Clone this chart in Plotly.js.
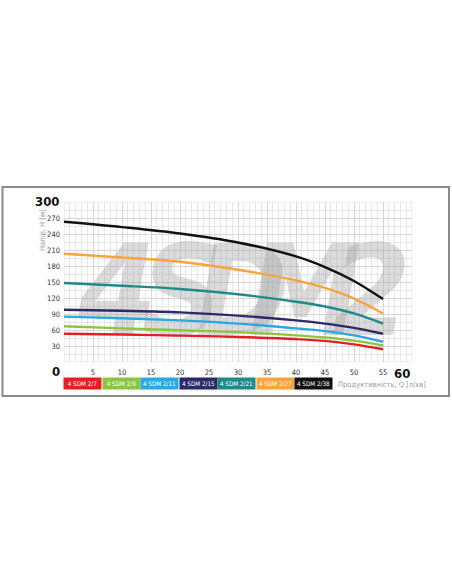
<!DOCTYPE html>
<html>
<head>
<meta charset="utf-8">
<script src="https://cdn.plot.ly/plotly-3.0.1.min.js"></script>
<style>html,body{margin:0;padding:0;background:#fff;}#chart{width:452px;height:584px;}</style>
</head>
<body>
<div id="chart"></div>
<script>
// ---- data ----
const flowQ = [0, 10, 20, 30, 40, 45, 50, 55];
const seriesNames = ['4 SDM 2/7', '4 SDM 2/9', '4 SDM 2/11', '4 SDM 2/15', '4 SDM 2/21', '4 SDM 2/27', '4 SDM 2/38'];
const head_2_7  = [53, 51.5, 49.5, 47, 43, 39.5, 33, 24];
const head_2_9  = [67, 63, 59.5, 56, 50, 46, 40, 31];
const head_2_11 = [85, 82, 78, 72, 63, 58, 50, 38];
const head_2_15 = [98, 96, 93, 87, 78, 72, 64, 53];
const head_2_21 = [148, 143, 137, 127, 113, 104, 91, 72];
const head_2_27 = [203, 196, 188, 173, 153, 139, 119, 91];
const head_2_38 = [263, 253, 241, 224, 198, 178, 152, 118];
const seriesColors = ['#e31e24', '#8cc63e', '#29a9e0', '#2b2968', '#1f8a89', '#f5a53a', '#111111'];
const xTickVals = [5, 10, 15, 20, 25, 30, 35, 40, 45, 50, 55];
const yTickVals = [30, 60, 90, 120, 150, 180, 210, 240, 270];
const yAxisTitle = 'Напір, H [м]';
const xAxisTitle = 'Продуктивність, Q [л/хв]';
const watermarkLetters = ['4', 'S', 'D', 'M', '2'];
const watermarkQ = [9.2, 20.4, 30.8, 41.6, 53.0];

const heads = [head_2_7, head_2_9, head_2_11, head_2_15, head_2_21, head_2_27, head_2_38];

// plot geometry (pixels)
const W = 452, H = 584;
const L = 64, R = 412, T = 202, B = 362;
const px = v => (v - L) / (R - L);
const py = v => (B - v) / (B - T);

const condensed = '"DejaVu Sans Condensed", "DejaVu Sans", sans-serif';

const traces = [{
  type: 'scatter', mode: 'text', x: watermarkQ, y: watermarkQ.map(() => 110), text: watermarkLetters,
  textposition: 'middle center',
  textfont: {family: '"DejaVu Sans Condensed", sans-serif', size: 126, color: 'rgba(170,170,170,0.42)', weight: 'bold', style: 'italic'},
  hoverinfo: 'skip', showlegend: false, cliponaxis: false
}];
heads.forEach((h, i) => {
  traces.push({
    type: 'scatter', mode: 'lines', x: flowQ, y: h, name: seriesNames[i],
    line: {color: seriesColors[i], width: 2.4, shape: 'spline', smoothing: 1},
    showlegend: false
  });
});

const annotations = [];
// big corner labels
annotations.push({xref: 'paper', yref: 'paper', x: px(61), y: py(201), xanchor: 'right', yanchor: 'middle', text: '<b>300</b>', showarrow: false, font: {family: condensed, size: 13, color: '#111'}});
annotations.push({xref: 'paper', yref: 'paper', x: px(62), y: py(371), xanchor: 'right', yanchor: 'middle', text: '<b>0</b>', showarrow: false, font: {family: condensed, size: 13, color: '#111'}});
annotations.push({xref: 'paper', yref: 'paper', x: px(412), y: py(373), xanchor: 'right', yanchor: 'middle', text: '<b>60</b>', showarrow: false, font: {family: condensed, size: 13, color: '#111'}});
// y axis title
annotations.push({xref: 'paper', yref: 'paper', x: px(42), y: py(230), xanchor: 'center', yanchor: 'middle', textangle: -90, text: yAxisTitle, showarrow: false, font: {family: condensed, size: 7.5, color: '#9a9a9a'}});
// legend badges
const boxW = 37, boxStep = 38.5, boxY = 383.5;
seriesNames.forEach((n, i) => {
  const cx = L + i * boxStep + boxW / 2;
  annotations.push({xref: 'paper', yref: 'paper', x: px(cx), y: py(boxY), xanchor: 'center', yanchor: 'middle',
    text: n, showarrow: false, width: boxW, height: 11, borderpad: 0, bgcolor: seriesColors[i],
    font: {family: condensed, size: 6.3, color: '#ffffff'}});
});
annotations.push({xref: 'paper', yref: 'paper', x: px(336), y: py(384), xanchor: 'left', yanchor: 'middle', text: xAxisTitle, showarrow: false, font: {family: condensed, size: 7.5, color: '#9a9a9a'}});

const layout = {
  width: W, height: H,
  margin: {l: L, r: W - R, t: T, b: H - B, pad: 0},
  paper_bgcolor: '#ffffff', plot_bgcolor: '#ffffff',
  showlegend: false,
  xaxis: {range: [0, 60], tickvals: xTickVals, ticktext: xTickVals.map(String), ticks: '',
    ticklabelstandoff: 4,
    showgrid: true, gridcolor: '#d6d6d6', gridwidth: 1, zeroline: false, showline: false,
    minor: {dtick: 1, showgrid: true, gridcolor: '#e6e6e6', gridwidth: 1},
    tickfont: {family: condensed, size: 7.5, color: '#333'}, fixedrange: true},
  yaxis: {range: [0, 300], tickvals: yTickVals, ticktext: yTickVals.map(String), ticks: '',
    ticklabelstandoff: 3,
    showgrid: true, gridcolor: '#d6d6d6', gridwidth: 1, zeroline: false, showline: false,
    minor: {dtick: 15, showgrid: true, gridcolor: '#e6e6e6', gridwidth: 1},
    tickfont: {family: condensed, size: 7.5, color: '#333'}, fixedrange: true},
  annotations: annotations,
  shapes: [
    {type: 'rect', xref: 'paper', yref: 'paper', x0: px(2.5), x1: px(449), y0: py(396), y1: py(187), line: {color: '#8a8a8a', width: 2}, layer: 'below'},
    {type: 'rect', xref: 'x', yref: 'y', x0: 0, x1: 60, y0: 0, y1: 300, line: {color: '#e0e0e0', width: 1}, layer: 'below'}
  ]
};

Plotly.newPlot('chart', traces, layout, {staticPlot: true, displayModeBar: false});
</script>
</body>
</html>
